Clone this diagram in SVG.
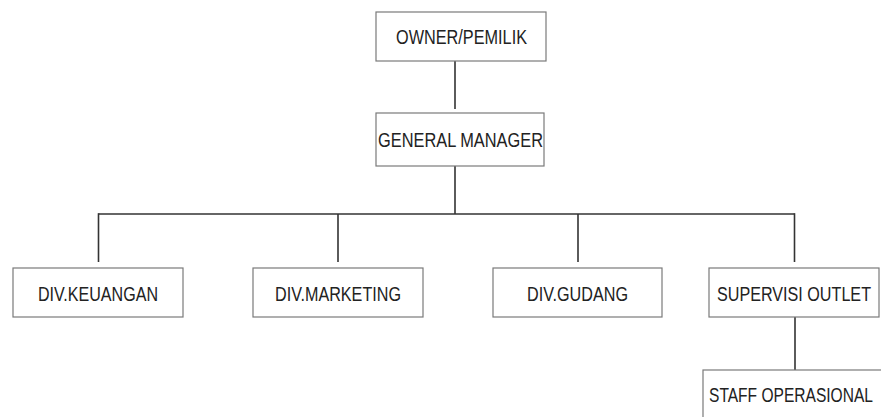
<svg xmlns="http://www.w3.org/2000/svg" width="881" height="417" viewBox="0 0 881 417">
<style>
.box{fill:#fff;stroke:#7a7a7a;stroke-width:1.2}
.lbl{font-family:"Liberation Sans",Arial,sans-serif;font-size:16px;fill:#222}
.conn{fill:none;stroke:#333;stroke-width:1.6}
</style>
<rect width="881" height="417" fill="#fff"/>
<g id="connectors">
<line class="conn" x1="455" y1="61" x2="455" y2="109"/>
<line class="conn" x1="455" y1="166" x2="455" y2="214"/>
<line class="conn" x1="98.5" y1="214" x2="794.5" y2="214"/>
<line class="conn" x1="98.5" y1="213.2" x2="98.5" y2="262"/>
<line class="conn" x1="338" y1="214" x2="338" y2="262"/>
<line class="conn" x1="578" y1="214" x2="578" y2="262"/>
<line class="conn" x1="794.5" y1="213.2" x2="794.5" y2="262"/>
<line class="conn" x1="795" y1="317" x2="795" y2="370"/>
</g>
<g id="owner">
<rect class="box" x="376" y="12" width="170" height="49"/>
<text class="lbl" transform="translate(396,44) scale(1,1.25)" textLength="131" lengthAdjust="spacingAndGlyphs">OWNER/PEMILIK</text>
</g>
<g id="gm">
<rect class="box" x="376" y="113" width="168" height="53"/>
<text class="lbl" transform="translate(378,147) scale(1,1.3)" textLength="165" lengthAdjust="spacingAndGlyphs">GENERAL MANAGER</text>
</g>
<g id="keuangan">
<rect class="box" x="13" y="268" width="170" height="49"/>
<text class="lbl" transform="translate(38,301) scale(1,1.3)" textLength="120" lengthAdjust="spacingAndGlyphs">DIV.KEUANGAN</text>
</g>
<g id="marketing">
<rect class="box" x="253" y="268" width="170" height="49"/>
<text class="lbl" transform="translate(275,301) scale(1,1.3)" textLength="126" lengthAdjust="spacingAndGlyphs">DIV.MARKETING</text>
</g>
<g id="gudang">
<rect class="box" x="493" y="268" width="169" height="49"/>
<text class="lbl" transform="translate(527,301) scale(1,1.3)" textLength="101" lengthAdjust="spacingAndGlyphs">DIV.GUDANG</text>
</g>
<g id="supervisi">
<rect class="box" x="709" y="268" width="170" height="49"/>
<text class="lbl" transform="translate(717,301) scale(1,1.3)" textLength="154" lengthAdjust="spacingAndGlyphs">SUPERVISI OUTLET</text>
</g>
<g id="staff">
<rect class="box" x="703" y="370" width="190" height="60"/>
<text class="lbl" transform="translate(709,402) scale(1,1.3)" textLength="164" lengthAdjust="spacingAndGlyphs">STAFF OPERASIONAL</text>
</g>
</svg>
